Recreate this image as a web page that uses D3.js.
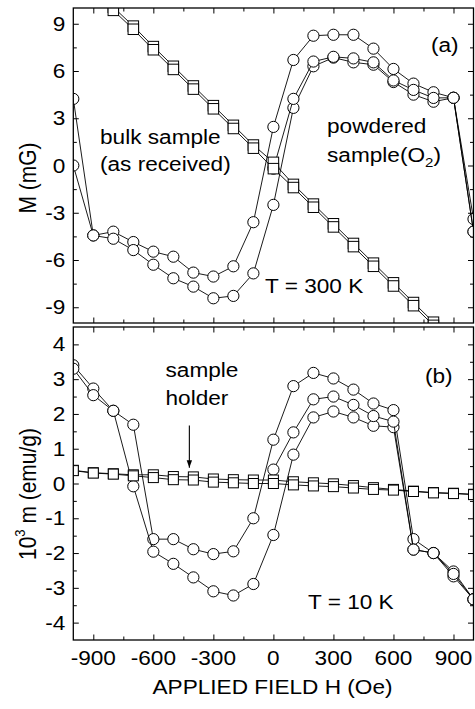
<!DOCTYPE html>
<html><head><meta charset="utf-8">
<script src="https://cdn.jsdelivr.net/npm/d3@7"></script>
<style>
body{margin:0;background:#fff}
svg text{font-family:"Liberation Sans",Arial,Helvetica,sans-serif;fill:#000}
</style>
</head><body>
<svg id="chart" width="475" height="709"></svg>
<script>
// ---------- data ----------
const fieldH = [-1000,-900,-800,-700,-600,-500,-400,-300,-200,-100,0,100,200,300,400,500,600,700,800,900,1000];

// panel (a), T = 300 K, M (mG)
const aLoopUpper = [4.23,-4.44,-4.2,-4.86,-5.47,-5.79,-6.8,-7.05,-6.4,-3.6,2.45,6.7,8.24,8.3,8.3,7.42,6.13,5.2,4.65,4.3,-3.4];
const aLoopLower = [0.0,-4.44,-4.65,-5.37,-6.3,-7.16,-7.69,-8.43,-8.28,-6.85,-2.5,3.66,6.3,6.85,6.55,6.4,5.3,4.5,4.05,4.3,-4.2];
const aVirgin    = [null,null,null,null,null,null,null,null,null,null,-0.2,4.23,6.6,6.9,6.8,6.55,5.4,4.8,4.29,4.3,-4.2];
const aBulkUp    = [12.5,11.25,10.05,8.85,7.55,6.3,5.05,3.8,2.55,1.3,0.2,-1.2,-2.45,-3.7,-4.95,-6.2,-7.45,-8.7,-9.95,-11.2,-12.45];
const aBulkDown  = [12.3,11.05,9.85,8.65,7.35,6.1,4.85,3.6,2.35,1.1,-0.2,-1.4,-2.65,-3.9,-5.15,-6.4,-7.65,-8.9,-10.15,-11.4,-12.65];

// panel (b), T = 10 K, 10^3 m (emu/g)
const bLoopUpper = [3.4,2.73,2.09,1.69,-1.6,-1.6,-1.89,-2.03,-1.95,-1.0,1.26,2.8,3.18,3.02,2.7,2.3,2.11,-1.6,-2.0,-2.53,-3.33];
const bLoopLower = [3.3,2.54,2.09,-0.08,-1.96,-2.31,-2.7,-3.1,-3.22,-2.89,-1.48,0.83,1.9,2.07,1.9,1.66,1.62,-1.9,-2.0,-2.67,-3.33];
const bVirgin    = [null,null,null,null,null,null,null,null,null,null,0.4,1.47,2.42,2.5,2.26,1.94,1.78,-1.9,-2.0,-2.6,-3.33];
const bHolderUp  = [0.38,0.31,0.28,0.25,0.25,0.2,0.19,0.13,0.11,0.1,0.1,0.05,0.02,-0.01,-0.06,-0.12,-0.17,-0.22,-0.26,-0.28,-0.31];
const bHolderDn  = [0.37,0.3,0.27,0.22,0.17,0.11,0.1,0.04,0.02,0.0,0.0,-0.04,-0.07,-0.09,-0.13,-0.17,-0.19,-0.23,-0.27,-0.29,-0.32];

// ticks
const xMajor = [-900,-600,-300,0,300,600,900];
const xMinor = [-750,-450,-150,150,450,750];
const xTickLabels = ["-900","-600","-300","0","300","600","900"];
const aYMajor = [-9,-6,-3,0,3,6,9];
const aYMinor = [-7.5,-4.5,-1.5,1.5,4.5,7.5];
const aYTickLabels = ["-9","-6","-3","0","3","6","9"];
const bYMajor = [-4,-3,-2,-1,0,1,2,3,4];
const bYMinor = [-3.5,-2.5,-1.5,-0.5,0.5,1.5,2.5,3.5];
const bYTickLabels = ["-4","-3","-2","-1","0","1","2","3","4"];

// ---------- layout ----------
const svg = d3.select("#chart");
const L = 73.3, R = 473.5;
const aTop = 8, aBot = 323, bTop = 327, bBot = 640;
const FS = 19.5, SX = 1.16;

const x = d3.scaleLinear().domain([-1000,1000]).range([L,R]);
const ya = d3.scaleLinear().domain([-10,10]).range([aBot,aTop]);
const yb = d3.scaleLinear().domain([-4.5,4.5]).range([bBot,bTop]);

function label(g, px, py, str, anchor){
  const t = g.append("text")
    .attr("transform",`translate(${px},${py}) scale(${SX},1)`)
    .attr("font-size",FS)
    .attr("text-anchor",anchor||"start");
  t.text(str);
  return t;
}

function panel(id, y, yMajor, yMinor, yLabels, top, bot, showX){
  const g = svg.append("g");
  const clipId = "clip"+id;
  svg.append("clipPath").attr("id",clipId).append("rect")
    .attr("x",L).attr("y",top).attr("width",R-L).attr("height",bot-top);
  // axes (inward ticks)
  const axes = [
    [d3.axisBottom(x), `translate(0,${bot})`, xMajor, xMinor],
    [d3.axisTop(x), `translate(0,${top})`, xMajor, xMinor],
  ];
  axes.forEach(([ax,tr,maj,min])=>{
    g.append("g").attr("transform",tr).call(ax.tickValues(maj).tickSize(-5.5).tickFormat("")).call(s=>s.select(".domain").remove());
    g.append("g").attr("transform",tr).call(ax.tickValues(min).tickSize(-3.5).tickFormat("")).call(s=>s.select(".domain").remove());
  });
  [[d3.axisLeft(y), `translate(${L},0)`],[d3.axisRight(y), `translate(${R},0)`]].forEach(([ax,tr])=>{
    g.append("g").attr("transform",tr).call(ax.tickValues(yMajor).tickSize(-5.5).tickFormat("")).call(s=>s.select(".domain").remove());
    g.append("g").attr("transform",tr).call(ax.tickValues(yMinor).tickSize(-3.5).tickFormat("")).call(s=>s.select(".domain").remove());
  });
  g.selectAll(".tick line").attr("stroke","#000").attr("stroke-width",1);
  // y tick labels
  yMajor.forEach((v,i)=>{
    label(g, L-8, y(v)+7, yLabels[i], "end");
  });
  if(showX){
    xMajor.forEach((v,i)=>{
      label(g, x(v), bot+24.5, xTickLabels[i], "middle");
    });
  }
  const plot = g.append("g").attr("clip-path",`url(#${clipId})`);
  // frame
  g.append("rect").attr("x",L).attr("y",top).attr("width",R-L).attr("height",bot-top)
    .attr("fill","none").attr("stroke","#000").attr("stroke-width",1.3);
  return {g, plot};
}

function series(plot, y, vals, marker, size){
  const pts = fieldH.map((h,i)=>[h,vals[i]]).filter(d=>d[1]!==null);
  const line = d3.line().x(d=>x(d[0])).y(d=>y(d[1]));
  plot.append("path").attr("d",line(pts)).attr("fill","none").attr("stroke","#000").attr("stroke-width",0.9);
  if(marker==="circle"){
    plot.selectAll(null).data(pts).enter().append("circle")
      .attr("cx",d=>x(d[0])).attr("cy",d=>y(d[1])).attr("r",size)
      .attr("fill","#fff").attr("stroke","#000").attr("stroke-width",1);
  } else {
    plot.selectAll(null).data(pts).enter().append("rect")
      .attr("x",d=>x(d[0])-size/2).attr("y",d=>y(d[1])-size/2)
      .attr("width",size).attr("height",size)
      .attr("fill","#fff").attr("stroke","#000").attr("stroke-width",1);
  }
}

// ----- panel (a)
const pa = panel("a", ya, aYMajor, aYMinor, aYTickLabels, aTop, aBot, false);
series(pa.plot, ya, aLoopUpper, "circle", 5.6);
series(pa.plot, ya, aLoopLower, "circle", 5.6);
series(pa.plot, ya, aVirgin, "circle", 5.6);
series(pa.plot, ya, aBulkUp, "square", 10.5);
series(pa.plot, ya, aBulkDown, "square", 10.5);

// ----- panel (b)
const pb = panel("b", yb, bYMajor, bYMinor, bYTickLabels, bTop, bBot, true);
series(pb.plot, yb, bLoopUpper, "circle", 5.6);
series(pb.plot, yb, bLoopLower, "circle", 5.6);
series(pb.plot, yb, bVirgin, "circle", 5.6);
series(pb.plot, yb, bHolderUp, "square", 10);
series(pb.plot, yb, bHolderDn, "square", 10);

// ----- annotations
const ann = svg.append("g");
label(ann, 100, 143.5, "bulk sample");
label(ann, 100, 171, "(as received)");
label(ann, 327, 133, "powdered");
{
  const t = label(ann, 327, 161.5, "sample(O");
  t.append("tspan").attr("dy",5).attr("font-size",13).text("2");
  t.append("tspan").attr("dy",-5).text(")");
}
label(ann, 431, 51.5, "(a)");
label(ann, 265, 293, "T = 300 K");
label(ann, 425, 382.5, "(b)");
label(ann, 165.5, 376.5, "sample");
label(ann, 165.5, 405, "holder");
label(ann, 308, 608.5, "T = 10 K");

// arrow
svg.append("defs").append("marker").attr("id","ah").attr("viewBox","0 0 10 10")
  .attr("refX",10).attr("refY",5).attr("markerWidth",7).attr("markerHeight",7).attr("orient","auto")
  .append("path").attr("d","M0,1.5 L10,5 L0,8.5 Z").attr("fill","#000");
ann.append("line").attr("x1",x(-420)).attr("x2",x(-420)).attr("y1",yb(1.67)).attr("y2",yb(0.45))
  .attr("stroke","#000").attr("stroke-width",1.1).attr("marker-end","url(#ah)");

// axis titles
ann.append("text").attr("transform",`translate(272.5,693.5) scale(${SX},1)`)
  .attr("font-size",FS).attr("text-anchor","middle").text("APPLIED FIELD H (Oe)");
ann.append("text").attr("transform",`translate(35.5,178) rotate(-90) scale(1,${SX})`)
  .attr("font-size",21).attr("text-anchor","middle").text("M (mG)");
{
  const t = ann.append("text").attr("transform",`translate(35.5,494) rotate(-90) scale(1,${SX})`)
    .attr("font-size",21).attr("text-anchor","middle");
  t.append("tspan").text("10");
  t.append("tspan").attr("dy",-9).attr("font-size",13).text("3");
  t.append("tspan").attr("dy",9).text(" m (emu/g)");
}
</script>
</body></html>
